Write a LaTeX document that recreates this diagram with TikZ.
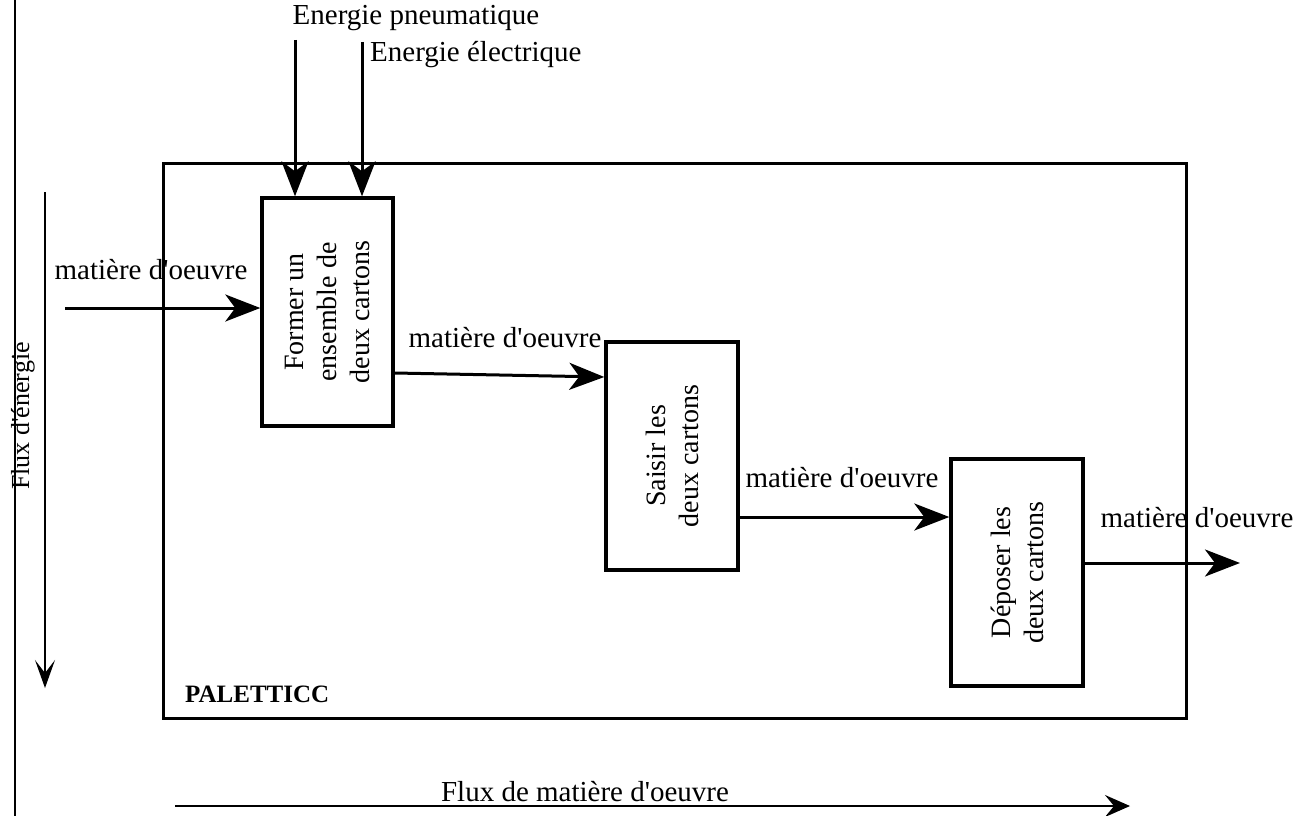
\documentclass[tikz,border=0pt]{standalone}
\usepackage{fontspec}
\setmainfont{Liberation Serif}
\usetikzlibrary{arrows.meta}
\newcommand{\apos}{\textquotesingle}
\begin{document}
\begin{tikzpicture}[x=1pt,y=-1pt,
  txt/.style={inner sep=0pt,font=\fontsize{29}{33}\selectfont},
  rottxt/.style={inner sep=0pt,rotate=90,align=center,font=\fontsize{28}{33}\selectfont},
  frame/.style={draw,line width=3pt},
  funcbox/.style={draw,line width=3.4pt,inner sep=0pt},
  flow/.style={line width=3pt,-{Stealth[length=35pt,width=27pt,inset=10pt]}},
  thinflow/.style={line width=1.5pt,-{Stealth[length=25pt,width=22pt,inset=9pt]}}]
\useasboundingbox (0,0) rectangle (1309,816);

% left rule
\coordinate (r1) at (15,0);
\coordinate (r2) at (15,816);
\draw[line width=2pt] (r1) -- (r2);

% system boundary
\node[frame,minimum width=1023pt,minimum height=555pt,inner sep=0pt] (sys) at (674.5,440.5) {};
\node[inner sep=0pt,anchor=west,font=\fontsize{25}{29}\selectfont\bfseries] (pal) at (185,694) {PALETTICC};

% functions
\node[funcbox,minimum width=131pt,minimum height=228pt] (b1) at (327.5,312) {};
\node[funcbox,minimum width=132pt,minimum height=228pt] (b2) at (672,456) {};
\node[funcbox,minimum width=132pt,minimum height=227pt] (b3) at (1017,572.5) {};
\node[rottxt] (t1) at (b1.center) {Former un\\ensemble de\\deux cartons};
\node[rottxt] (t2) at (b2.center) {Saisir les\\deux cartons};
\node[rottxt] (t3) at (b3.center) {Déposer les\\deux cartons};

% energy inputs
\coordinate (ep) at (295,40);
\coordinate (ee) at (362,42);
\draw[flow] (ep) -- (ep |- b1.north);
\draw[flow] (ee) -- (ee |- b1.north);
\node[txt] (lep) at (416,18) {Energie pneumatique};
\node[txt,anchor=west] (lee) at (370,55) {Energie électrique};

% matter flow
\coordinate (in) at (65,308);
\coordinate (out) at (1240,563);
\draw[flow] (in) -- (in -| b1.west);
\draw[flow] (b1.east |- 0,373) -- (b2.west |- 0,377);
\draw[flow] (b2.east |- 0,517) -- (b3.west |- 0,517);
\draw[flow] (b3.east |- out) -- (out);
\node[txt] (m1) at (151,270) {matière d\apos oeuvre};
\node[txt] (m2) at (505,338) {matière d\apos oeuvre};
\node[txt] (m3) at (842,478) {matière d\apos oeuvre};
\node[txt] (m4) at (1197,518) {matière d\apos oeuvre};

% flux arrows
\coordinate (fe1) at (45,192);
\coordinate (fe2) at (45,688);
\draw[line width=1.5pt,-{Stealth[length=28pt,width=20pt,inset=13pt]}] (fe1) -- (fe2);
\node[inner sep=0pt,rotate=90,font=\fontsize{26}{30}\selectfont] (lfe) at (23,416) {Flux d\apos énergie};

\coordinate (fm1) at (175,806);
\coordinate (fm2) at (1130,806);
\draw[thinflow] (fm1) -- (fm2);
\node[txt] (lfm) at (585,792) {Flux de matière d\apos oeuvre};
\end{tikzpicture}
\end{document}
